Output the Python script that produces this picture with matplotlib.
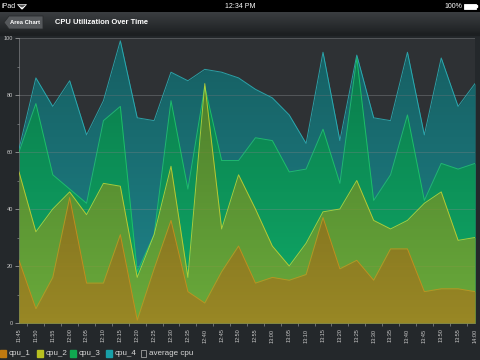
import matplotlib
matplotlib.use("Agg")
import matplotlib.pyplot as plt
import numpy as np
from matplotlib.patches import Polygon, Rectangle

plt.rcParams["font.family"] = ["Liberation Sans", "DejaVu Sans"]

# dados
times = ["11:45", "11:50", "11:55", "12:00", "12:05", "12:10", "12:15",
         "12:20", "12:25", "12:30", "12:35", "12:40", "12:45", "12:50",
         "12:55", "13:00", "13:05", "13:10", "13:15", "13:20", "13:25",
         "13:30", "13:35", "13:40", "13:45", "13:50", "13:55", "14:00"]
cpu_1 = [22, 5, 16, 44, 14, 14, 31, 1, 19, 36, 11, 7, 18, 27,
         14, 16, 15, 17, 37, 19, 22, 15, 26, 26, 11, 12, 12, 11]
cpu_2 = [53, 32, 40, 46, 38, 49, 48, 16, 31, 55, 16, 84, 33, 52,
         40, 27, 20, 28, 39, 40, 50, 36, 33, 36, 42, 46, 29, 30]
cpu_3 = [60, 77, 52, 47, 42, 71, 76, 18, 31, 78, 47, 83, 57, 57,
         65, 64, 53, 54, 68, 49, 93, 43, 52, 73, 43, 56, 54, 56]
cpu_4 = [61, 86, 76, 85, 66, 78, 99, 72, 71, 88, 85, 89, 88, 86,
         82, 79, 73, 63, 95, 64, 94, 72, 71, 95, 66, 93, 76, 84]
y_ticks = [0, 20, 40, 60, 80, 100]
legend_names = ["cpu_1", "cpu_2", "cpu_3", "cpu_4", "average cpu"]

series = [cpu_4, cpu_3, cpu_2, cpu_1]
fill_colors = ["#1c9ca2", "#0db262", "#88aa2c", "#a87c1e"]
fill_alpha = [0.8, 0.85, 0.75, 0.75]
line_colors = ["#2db3ba", "#1fc76e", "#c4d435", "#c8921e"]
legend_colors = ["#c07a10", "#b8c020", "#10a850", "#18a0a8", None]

W, H = 480, 360
fig = plt.figure(figsize=(4.8, 3.6), dpi=100)
fig.patch.set_facecolor("#24282b")

# camada de decoracao em pixels
deco = fig.add_axes([0, 0, 1, 1], zorder=0)
deco.set_xlim(0, W)
deco.set_ylim(H, 0)
deco.axis("off")

# barra de status
deco.add_patch(Rectangle((0, 0), W, 12, color="black"))
deco.text(2, 6, "iPad", color="white", fontsize=5, va="center")
for r in (1.5, 3, 4.5):
    deco.add_patch(Polygon([[22, 9], [22 - r, 9 - r], [22 + r, 9 - r]],
                           closed=True, fill=False, ec="white", lw=0.5))
deco.text(240, 6, "12:34 PM", color="white", fontsize=5, ha="center", va="center")
deco.text(462, 6, "100%", color="white", fontsize=5, ha="right", va="center")
deco.add_patch(Rectangle((464, 3.5), 12, 5, fill=True, fc="white", ec="white", lw=0.6))
deco.add_patch(Rectangle((476, 5), 1.2, 2, color="white"))

# barra de navegacao com degrade
nav = np.linspace(0, 1, 50).reshape(-1, 1)
deco.imshow(nav, extent=[0, W, 33, 12], cmap=matplotlib.colors.LinearSegmentedColormap.from_list(
    "nav", ["#3b3e41", "#1f2224"]), aspect="auto", zorder=1)
deco.add_patch(Rectangle((0, 33), W, 2, color="#1c1f21", zorder=2))
deco.add_patch(Polygon([[4, 22.5], [9, 16], [43, 16], [43, 29], [9, 29]],
                       closed=True, fc="#55585b", ec="#2a2c2e", lw=0.6, zorder=2))
deco.text(25, 22, "Area Chart", color="white", fontsize=4.2, fontweight="bold",
          ha="center", va="center", zorder=3)
deco.text(55, 22.5, "CPU Utilization Over Time", color="white", fontsize=5.4,
          fontweight="bold", va="center", zorder=3)

# area do grafico
ax = fig.add_axes([19 / W, 1 - 323 / H, (475 - 19) / W, (323 - 38) / H], zorder=1)
ax.set_facecolor("#2e3134")
x = np.arange(len(times))

polys = []
for i, s in enumerate(series):
    p = ax.fill_between(x, 0, s, color=fill_colors[i], alpha=fill_alpha[i],
                        lw=0, zorder=1 + i)
    polys.append(p)

# sombra vertical (degrade escuro para baixo)
grad = np.zeros((100, 1, 4))
grad[:, 0, 3] = np.linspace(0.0, 0.3, 100)
im = ax.imshow(grad, extent=[0, len(times) - 1, 100, 0], aspect="auto", zorder=5)
im.set_clip_path(polys[0].get_paths()[0], transform=ax.transData)

for i, s in enumerate(series):
    ax.plot(x, s, color=line_colors[i], lw=0.7, zorder=6 + i, alpha=0.85)

ax.set_xlim(0, len(times) - 1)
ax.set_ylim(0, 100)
ax.set_yticks(y_ticks)
ax.set_yticks(range(10, 100, 20), minor=True)
ax.grid(axis="y", color="#9a9da0", alpha=0.4, lw=0.6, zorder=10)
ax.set_axisbelow(False)
ax.set_xticks(x)
ax.set_xticklabels(times, rotation=90)
ax.set_xticks(x[:-1] + 0.5, minor=True)
ax.tick_params(axis="x", which="major", length=0, pad=4, labelsize=4,
               labelcolor="#c8c8c8")
ax.tick_params(axis="x", which="minor", length=2.5, color="#8a8d90", width=0.5)
ax.tick_params(axis="y", which="major", length=3, color="#b0b0b0", width=0.5,
               labelsize=4, labelcolor="#c8c8c8", pad=1.5)
ax.tick_params(axis="y", which="minor", length=1.5, color="#8a8d90", width=0.5)
for side in ("top", "right"):
    ax.spines[side].set_visible(False)
for side in ("left", "bottom"):
    ax.spines[side].set_color("#7a7d80")
    ax.spines[side].set_linewidth(0.5)

# legenda manual
lx = [0, 37, 70, 106, 140]
for i, name in enumerate(legend_names):
    if legend_colors[i] is None:
        deco.add_patch(Rectangle((lx[i] + 0.5, 350), 5, 7, fill=False,
                                 ec="#a0a0a0", lw=0.6))
    else:
        deco.add_patch(Rectangle((lx[i], 350), 6, 7, color=legend_colors[i]))
    deco.text(lx[i] + 9, 353.5, name, color="#d8d8d8", fontsize=5.8, va="center")

fig.savefig("out.png", dpi=100, facecolor=fig.get_facecolor())
